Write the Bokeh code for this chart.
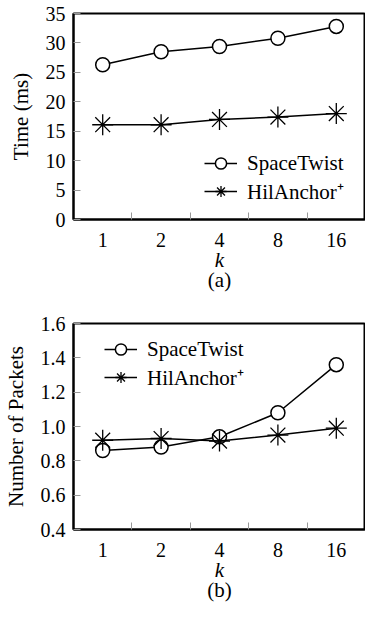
from bokeh.plotting import figure
from bokeh.models import (FixedTicker, Legend, LegendItem, Title, Range1d,
                          NumeralTickFormatter)
from bokeh.layouts import column
from bokeh.embed import file_html
from bokeh.resources import INLINE

# ---- data ----
k_labels = ["1", "2", "4", "8", "16"]
time_spacetwist = [26.3, 28.5, 29.4, 30.8, 32.8]
time_hilanchor = [16.1, 16.1, 17.0, 17.4, 18.0]
packets_spacetwist = [0.86, 0.88, 0.94, 1.08, 1.36]
packets_hilanchor = [0.92, 0.93, 0.915, 0.95, 0.99]
time_ticks = [0, 5, 10, 15, 20, 25, 30, 35]
packet_ticks = [0.4, 0.6, 0.8, 1.0, 1.2, 1.4, 1.6]

FONT = "Liberation Serif"
xs = list(range(1, len(k_labels) + 1))


def make_panel(ys1, ys2, yrange, yticks, ylabel, caption, height,
               border_top, border_bottom, legend_loc, yfmt=None):
    p = figure(width=365, height=height, output_backend="svg",
               toolbar_location=None, min_border_left=71,
               min_border_right=0, min_border_top=border_top,
               min_border_bottom=border_bottom,
               x_range=Range1d(0.5, len(k_labels) + 0.5),
               y_range=Range1d(*yrange))
    p.grid.visible = False
    p.outline_line_color = "black"
    p.outline_line_width = 2
    p.background_fill_color = "white"
    p.border_fill_color = "white"

    # x axis
    xa = p.xaxis[0]
    xa.ticker = FixedTicker(ticks=xs,
                            minor_ticks=[x + 0.5 for x in xs[:-1]])
    xa.major_label_overrides = {x: lab for x, lab in zip(xs, k_labels)}
    xa.major_tick_line_color = None
    xa.minor_tick_in = 7
    xa.minor_tick_out = 0
    xa.minor_tick_line_color = "#999999"
    xa.axis_line_color = "black"
    xa.axis_line_width = 2
    xa.major_label_text_font = FONT
    xa.major_label_text_font_size = "20px"
    xa.major_label_text_color = "black"
    xa.major_label_standoff = 7
    xa.axis_label = "k"
    xa.axis_label_text_font = FONT
    xa.axis_label_text_font_style = "italic"
    xa.axis_label_text_font_size = "21px"
    xa.axis_label_text_color = "black"
    xa.axis_label_standoff = -2

    # y axis
    ya = p.yaxis[0]
    ya.ticker = FixedTicker(ticks=yticks, minor_ticks=[])
    if yfmt:
        ya.formatter = NumeralTickFormatter(format=yfmt)
    ya.major_tick_in = 7
    ya.major_tick_out = 0
    ya.major_tick_line_color = "#999999"
    ya.minor_tick_line_color = None
    ya.axis_line_color = "black"
    ya.axis_line_width = 2
    ya.major_label_text_font = FONT
    ya.major_label_text_font_size = "20px"
    ya.major_label_text_color = "black"
    ya.major_label_standoff = 8
    ya.axis_label = ylabel
    ya.axis_label_text_font = FONT
    ya.axis_label_text_font_style = "normal"
    ya.axis_label_text_font_size = "21px"
    ya.axis_label_text_color = "black"
    ya.axis_label_standoff = 10

    l1 = p.line(xs, ys1, line_color="black", line_width=1.5)
    m1 = p.scatter(xs, ys1, marker="circle", size=14, fill_color="white",
                   line_color="black", line_width=1.5)
    l2 = p.line(xs, ys2, line_color="black", line_width=1.5)
    m2 = p.scatter(xs, ys2, marker="asterisk", size=21,
                   line_color="black", line_width=1.3)

    legend = Legend(items=[LegendItem(label="SpaceTwist", renderers=[l1, m1]),
                           LegendItem(label="HilAnchor\u207a", renderers=[l2, m2])],
                    location=legend_loc, padding=0, margin=0, spacing=0,
                    glyph_width=33, glyph_height=28, label_height=28,
                    label_standoff=10, border_line_color=None,
                    background_fill_alpha=0,
                    label_text_font=FONT, label_text_font_size="21px",
                    label_text_color="black")
    p.add_layout(legend, "center")

    t = Title(text=caption, align="center", text_font=FONT,
              text_font_size="21px", text_font_style="normal",
              text_color="black", standoff=-18, offset=0)
    p.add_layout(t, "below")
    return p


pa = make_panel(time_spacetwist, time_hilanchor, (0, 35), time_ticks,
                "Time (ms)", "(a)", 300, 13, 81, (131, 14))
pb = make_panel(packets_spacetwist, packets_hilanchor, (0.4, 1.6),
                packet_ticks, "Number of Packets", "(b)", 323, 23, 94,
                (31, 138), yfmt="0.0")

layout = column(pa, pb, spacing=0)
open("out.html", "w").write(file_html(layout, INLINE))
